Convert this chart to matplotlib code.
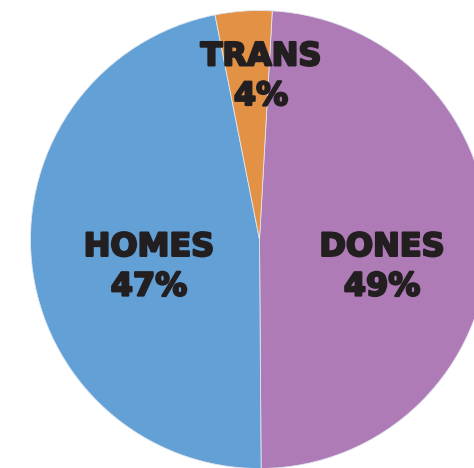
import matplotlib
matplotlib.use('Agg')
import matplotlib.pyplot as plt
import matplotlib.patheffects as pe

# slice data (clockwise from top)
labels = ["DONES", "HOMES", "TRANS"]
shares = [49, 47, 4]
colors = ["#AE7BB6", "#62A0D6", "#E39245"]

# label anchor points (data units, pie radius = 1)
label_pos = [(0.535, -0.121), (-0.4825, -0.121), (0.0066, 0.711)]

fig = plt.figure(figsize=(4.74, 4.68), dpi=100)
ax = fig.add_axes([0, 0, 1, 1])

ax.pie(
    shares,
    colors=colors,
    startangle=86.8,
    counterclock=False,
    radius=1,
    wedgeprops=dict(edgecolor="#dfe6f0", linewidth=0.6),
)

for name, val, (x, y) in zip(labels, shares, label_pos):
    ax.text(
        x, y, f"{name}\n{val}%",
        ha="center", va="center",
        fontsize=23, fontweight="bold",
        family="DejaVu Sans",
        color="#231F20",
        linespacing=1.36,
        path_effects=[pe.withStroke(linewidth=1.6, foreground="#231F20")],
    )

ax.set_xlim(-1.1332, 0.9367)
ax.set_ylim(-0.9978, 1.0459)
ax.set_aspect("auto")
ax.axis("off")

fig.savefig("out.png", dpi=100)
